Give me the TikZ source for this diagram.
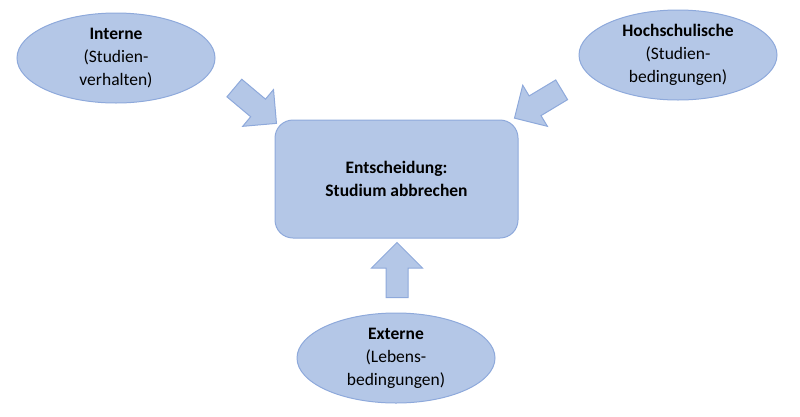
\documentclass[tikz,border=0pt]{standalone}
\usepackage{fontspec}
\setmainfont{Carlito}
\usepackage{tikz}
\usetikzlibrary{shapes.geometric,shapes.arrows}

\definecolor{boxfill}{HTML}{B4C7E7}
\definecolor{boxline}{HTML}{8EA9DB}

\tikzset{
    factor/.style={ellipse, draw=boxline, fill=boxfill, line width=1pt,
        minimum width=198pt, minimum height=90pt, inner sep=0pt, align=center},
    decision/.style={rectangle, rounded corners=18pt, draw=boxline, fill=boxfill,
        line width=1pt, minimum width=243pt, minimum height=118pt, align=center},
    blockarrow/.style={single arrow, draw=boxline, fill=boxfill, line width=1pt,
        minimum height=55pt, inner xsep=0pt, inner ysep=11pt,
        single arrow head extend=12.5pt}
}

\begin{document}
\begin{tikzpicture}[x=1pt, y=-1pt, font=\fontsize{17.5}{23}\selectfont]
        \useasboundingbox (0,0) rectangle (800,416);

        \node[decision] (dec) at (396.5,179) {\textbf{Entscheidung:}\\\textbf{Studium abbrechen}};

        \node[factor] (int) at (116,58) {\textbf{Interne}\\(Studien-\\verhalten)};
        \node[factor] (hoch) at (678,55) {\textbf{Hochschulische}\\(Studien-\\bedingungen)};
        \node[factor] (ext) at (396,358) {\textbf{Externe}\\(Lebens-\\bedingungen)};

        \node[blockarrow, rotate=-40] (aint) at (251,102) {};
        \node[blockarrow, rotate=211] (ahoch) at (543,101) {};
        \node[blockarrow, rotate=90, single arrow head extend=14.5pt, inner ysep=10.5pt] (aext) at (397,275.5) {};
\end{tikzpicture}
\end{document}
